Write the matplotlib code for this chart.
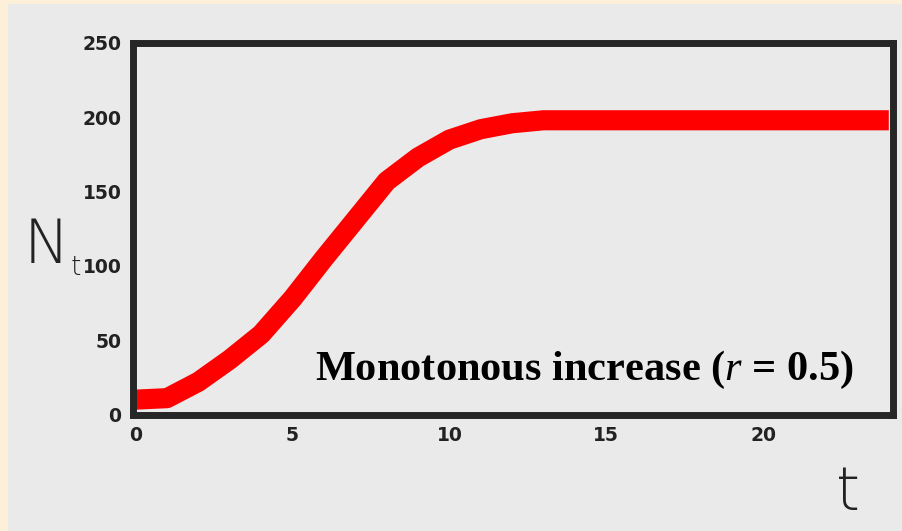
import matplotlib
matplotlib.use("Agg")
import matplotlib.pyplot as plt
from matplotlib.patches import Rectangle

# ---- data ----
t_values = list(range(0, 25))
N_values = [10, 11, 22, 37, 54, 78, 105, 131, 157, 173, 185, 192, 196,
            198, 198, 198, 198, 198, 198, 198, 198, 198, 198, 198, 198]
x_ticks = [0, 5, 10, 15, 20]
x_ticklabels = ["0", "5", "10", "15", "20"]
y_ticks = [0, 50, 100, 150, 200, 250]
y_ticklabels = ["0", "50", "100", "150", "200", "250"]
y_label_main = "N"
y_label_sub = "t"
x_label = "t"
annotation = "Monotonous increase ("
annotation_r = "$\\mathit{r}$"
annotation_end = " = 0.5)"

W, H = 902, 531
DPI = 100
plt.rcParams['mathtext.fontset'] = 'custom'
plt.rcParams['mathtext.it'] = 'Liberation Serif:italic'
plt.rcParams['mathtext.rm'] = 'Liberation Serif:bold'

fig = plt.figure(figsize=(W / DPI, H / DPI), dpi=DPI)
fig.patch.set_facecolor("#fdf0d9")
fig.patches.append(Rectangle((8 / W, 0), 1 - 8 / W, 1 - 4 / H,
                             transform=fig.transFigure, facecolor="#eaeaea",
                             edgecolor="none", zorder=-10))

left, right, top, bottom = 132.5, 893.5, 43, 414.5
ax = fig.add_axes([left / W, 1 - bottom / H, (right - left) / W, (bottom - top) / H])
ax.set_zorder(2)
ax.set_facecolor("#eaeaea")

ax.plot(t_values, N_values, color="#ff0000", linewidth=14.5,
        solid_joinstyle="round", solid_capstyle="butt", zorder=3)

ax.set_xlim(-0.1, 24.15)
ax.set_ylim(0, 250)

for s in ax.spines.values():
    s.set_linewidth(5)
    s.set_color("#262626")
    s.set_zorder(4)

tick_font = dict(family=["DejaVu Sans"], weight="bold",
                 size=13.5, color="#222222")
ax.set_xticks(x_ticks)
ax.set_xticklabels(x_ticklabels, **tick_font)
ax.set_yticks(y_ticks)
ax.set_yticklabels(y_ticklabels, **tick_font)
ax.tick_params(axis="both", length=0)
ax.tick_params(axis="x", pad=8)
ax.tick_params(axis="y", pad=8)

# axis labels
fig.text(24 / W, 1 - 263 / H, y_label_main, family=["DejaVu Sans"], weight="light",
         size=44, color="#222222", ha="left", va="baseline", zorder=5)
fig.text(71 / W, 1 - 275 / H, y_label_sub, family=["DejaVu Sans"], weight="light",
         size=19, color="#222222", ha="left", va="baseline", zorder=5)
fig.text(848 / W, 1 - 494 / H, x_label, family=["DejaVu Sans"], weight="light",
         size=44, color="#222222", ha="center", va="center", zorder=5)

# annotation
fig.text(315 / W, 1 - 380 / H, annotation + annotation_r + annotation_end,
         family=["Liberation Serif", "DejaVu Serif"], weight="bold",
         size=30.5, color="black", ha="left", va="baseline", zorder=5)

fig.savefig("out.png", dpi=DPI, facecolor=fig.get_facecolor())
